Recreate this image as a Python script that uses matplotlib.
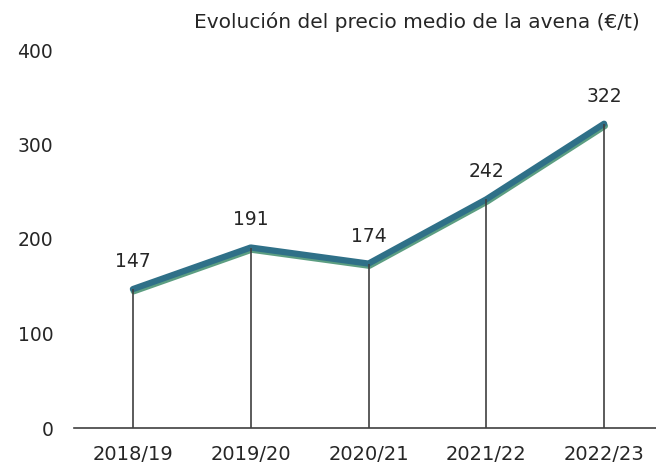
import matplotlib
matplotlib.use("Agg")
import matplotlib.pyplot as plt
import matplotlib.patheffects as pe
import numpy as np

campaigns = ["2018/19", "2019/20", "2020/21", "2021/22", "2022/23"]
price = [147, 191, 174, 242, 322]

LINE = "#2f7088"
SHADOW = "#5c9e82"
TEXT = "#262626"
GREY = "#404040"

plt.rcParams["font.family"] = ["DejaVu Sans"]

fig = plt.figure(figsize=(6.56, 4.66), dpi=100)
ax = fig.add_axes([74 / 656, (466 - 428) / 466, (663 - 74) / 656, (428 - 50) / 466])

x = np.arange(len(campaigns))
ax.vlines(x, 0, price, color=GREY, lw=1.2, zorder=3)
ax.plot(x, price, color=LINE, lw=4.5, solid_capstyle="round", zorder=2,
        path_effects=[pe.SimpleLineShadow(offset=(0.6, -1.6), shadow_color=SHADOW, alpha=1),
                      pe.Normal()])
for xi, v in zip(x, price):
    ax.annotate(f"{v}", (xi, v), xytext=(0, 13), textcoords="offset points",
                ha="center", va="bottom", fontsize=13.5, color=TEXT)

ax.set_xlim(-0.5, 4.5)
ax.set_ylim(0, 400)
ax.set_yticks([0, 100, 200, 300, 400])
ax.set_xticks(x, campaigns)
ax.tick_params(length=0, labelsize=13.5, colors=TEXT)
ax.tick_params(axis="y", pad=15)
ax.tick_params(axis="x", pad=12)
for side in ("top", "right", "left"):
    ax.spines[side].set_visible(False)
ax.spines["bottom"].set_color(GREY)
ax.spines["bottom"].set_linewidth(1.2)
for lab in ax.get_xticklabels():
    lab.set_fontsize(14)

fig.text(640 / 656, 1 - 22 / 466, "Evolución del precio medio de la avena (€/t)",
         ha="right", va="center", fontsize=14.5, color=TEXT)

fig.savefig("out.png", dpi=100)
